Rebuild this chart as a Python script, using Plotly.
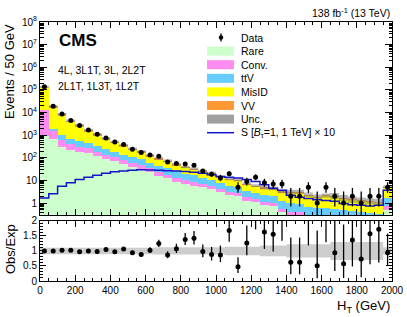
import numpy as np
import plotly.graph_objects as go

# ---------------- data ----------------
bin_width = 50
edges = list(range(0, 2001, 50))
centers = [e + 25 for e in edges[:-1]]

rare = [900, 650, 300, 230, 190, 160, 120, 90, 70, 52, 40, 32, 24, 16, 13, 9, 7, 6, 5, 4,
        3, 2.3, 2, 1.3, 1.1, 0.85, 0.75, 0.4, 0.3, 0.28, 0.22, 0.2, 0.2, 0.18, 0.16, 0.14, 0.13, 0.12, 0.11, 0.5]
conv = [12100, 900, 320, 160, 125, 100, 70, 50, 38, 27, 20, 15, 10, 7, 5, 4, 3, 2.5, 2, 1.6,
        1.1, 0.9, 0.8, 0.5, 0.4, 0.3, 0.25, 0.15, 0.12, 0.12, 0.08, 0.07, 0.08, 0.07, 0.06, 0.05, 0.05, 0.04, 0.04, 0.25]
ttv = [200, 250, 380, 290, 230, 185, 140, 105, 80, 60, 45, 38, 28, 22, 18, 13, 10, 8.5, 6.5, 5,
       3.5, 2.8, 2.4, 1.6, 1.3, 1.1, 1.0, 0.7, 0.6, 0.55, 0.4, 0.35, 0.35, 0.32, 0.28, 0.25, 0.22, 0.2, 0.18, 1.0]
misid = [118000, 14500, 6300, 3000, 1800, 1000, 610, 370, 250, 170, 110, 80, 50, 36, 28, 19, 14, 12, 9.5, 8,
         5.4, 4.3, 3.9, 2.7, 2.4, 2.0, 1.9, 1.65, 1.83, 1.9, 1.45, 1.14, 1.37, 1.36, 1.1, 0.91, 0.87, 0.81, 0.73, 3.1]
vv = [6800, 2700, 1230, 730, 435, 255, 180, 109, 77, 56, 40, 28, 17, 13, 11, 7, 5, 4, 3.5, 3,
      2, 1.6, 1.5, 1.0, 0.8, 0.65, 0.6, 0.4, 0.35, 0.35, 0.25, 0.2, 0.2, 0.2, 0.15, 0.12, 0.1, 0.1, 0.1, 0.45]
unc_rel = [0.11] * 13 + [0.12] * 8 + [0.14] * 4 + [0.18] * 3 + [0.22] * 5 + [0.3] * 6 + [0.12]
data = [138000, 19000, 8700, 4500, 2700, 1700, 1100, 760, 500, 390, 240, 170, 132, 117, 65, 56, 54, 47, 26, 19,
        13, 20, 5, 9, 14, 8, 7, 7, 2, 2, 5, 1, 5, 2, 1, 2, 1, 2, 2, 5]
signal_x10 = [1.7, 2.6, 5.5, 8, 11, 14, 17, 21, 24, 26, 28, 29.5, 29, 28.5, 27, 26, 25, 23, 21, 18,
              15, 14, 13, 11, 9, 6.5, 4.5, 3.7, 2.2, 1.8, 1.6, 1.4, 1.3, 1.2, 0.95, 0.85, 0.8, 0.75, 0.8, 3.7]

bkg_names = ["Rare", "Conv.", "ttV", "MisID", "VV"]
bkg_colors = ["rgb(204,255,204)", "rgb(255,140,240)", "rgb(102,204,255)", "rgb(255,255,0)", "rgb(255,153,51)"]
bkg_values = [rare, conv, ttv, misid, vv]

# ---------------- derived ----------------
total = np.sum(np.array(bkg_values, dtype=float), axis=0)
unc = np.array(unc_rel)
d = np.array(data, dtype=float)
# Garwood-like asymmetric Poisson errors
lo = d - d * (1 - 1 / (9 * d) - 1 / (3 * np.sqrt(d))) ** 3
hi = (d + 1) * (1 - 1 / (9 * (d + 1)) + 1 / (3 * np.sqrt(d + 1))) ** 3 - d
ratio = d / total


def step(vals):
    return list(vals) + [vals[-1]]


fig = go.Figure()

for name, col, vals in zip(bkg_names, bkg_colors, bkg_values):
    fig.add_trace(go.Bar(x=centers, y=vals, width=bin_width, name=name,
                         marker=dict(color=col, line=dict(width=0)), xaxis="x", yaxis="y"))

# uncertainty band (upper)
fig.add_trace(go.Scatter(x=edges, y=step(total * (1 - unc)), mode="lines", line=dict(width=0, shape="hv"),
                         xaxis="x", yaxis="y", hoverinfo="skip"))
fig.add_trace(go.Scatter(x=edges, y=step(total * (1 + unc)), mode="lines", line=dict(width=0, shape="hv"),
                         fill="tonexty", fillcolor="rgba(110,110,110,0.5)", xaxis="x", yaxis="y", hoverinfo="skip"))

# signal
fig.add_trace(go.Scatter(x=edges, y=step(signal_x10), mode="lines",
                         line=dict(color="rgb(20,20,200)", width=1.5, shape="hv"), xaxis="x", yaxis="y"))

# data
fig.add_trace(go.Scatter(x=centers, y=data, mode="markers", marker=dict(color="black", size=5),
                         error_y=dict(type="data", symmetric=False, array=hi, arrayminus=lo,
                                      color="black", thickness=1.3, width=0),
                         xaxis="x", yaxis="y"))

# ratio band
fig.add_trace(go.Scatter(x=edges, y=step(1 - unc), mode="lines", line=dict(width=0, shape="hv"),
                         xaxis="x2", yaxis="y2", hoverinfo="skip"))
fig.add_trace(go.Scatter(x=edges, y=step(1 + unc), mode="lines", line=dict(width=0, shape="hv"),
                         fill="tonexty", fillcolor="rgb(205,205,205)", xaxis="x2", yaxis="y2", hoverinfo="skip"))
fig.add_trace(go.Scatter(x=centers, y=ratio, mode="markers", marker=dict(color="black", size=5),
                         error_y=dict(type="data", symmetric=False, array=hi / total, arrayminus=lo / total,
                                      color="black", thickness=1.3, width=0),
                         xaxis="x2", yaxis="y2"))

FONT = "Liberation Sans, Arial, sans-serif"
logmin = np.log10(0.3)
major_y = [10 ** k for k in range(0, 9)]
major_txt = ["1", "10"] + ["10<sup>%d</sup>" % k for k in range(2, 9)]
minor_y = [m * 10 ** k for k in range(-1, 8) for m in range(2, 10) if 0.3 <= m * 10 ** k <= 1e8]

axis_common = dict(showline=True, linecolor="black", linewidth=1, mirror="ticks", ticks="inside",
                   tickcolor="black", showgrid=False, zeroline=False, tickfont=dict(size=10, family=FONT, color="black"))

fig.update_layout(
    width=407, height=317,
    margin=dict(l=40, r=15, t=22, b=36, autoexpand=False),
    paper_bgcolor="white", plot_bgcolor="white",
    barmode="stack", bargap=0, showlegend=False,
    font=dict(family=FONT, color="black"),
    xaxis=dict(domain=[0, 1], anchor="y", range=[0, 2000], dtick=200, ticklen=6, showticklabels=False,
               minor=dict(dtick=50, ticklen=3, ticks="inside", tickcolor="black"), **axis_common),
    yaxis=dict(domain=[0.255, 1], anchor="x", type="log", range=[logmin, 8], tickmode="array",
               tickvals=major_y, ticktext=major_txt, ticklen=7,
               minor=dict(tickmode="array", tickvals=minor_y, ticklen=3.5, ticks="inside", tickcolor="black"),
               **axis_common),
    xaxis2=dict(domain=[0, 1], anchor="y2", range=[0, 2000], dtick=200, ticklen=6,
                minor=dict(dtick=50, ticklen=3, ticks="inside", tickcolor="black"), **axis_common),
    yaxis2=dict(domain=[0, 0.232], anchor="x2", range=[0, 2], tickmode="array",
                tickvals=[0, 0.5, 1, 1.5, 2], ticktext=["0", "0.5", "1", "1.5", "2"], ticklen=6,
                minor=dict(dtick=0.1, ticklen=3, ticks="inside", tickcolor="black"), **axis_common),
)


def px(xp):
    return (xp - 40) / 352.0


def py(yp):
    return (281 - yp) / 259.0


ann = []
ann.append(dict(text="138 fb<sup>-1</sup> (13 TeV)", x=1, y=py(12), xanchor="right", yanchor="middle",
                font=dict(size=10.5)))
ann.append(dict(text="<b>CMS</b>", x=px(57), y=py(41), xanchor="left", yanchor="middle", font=dict(size=17)))
ann.append(dict(text="4L, 3L1T, 3L, 2L2T", x=px(56), y=py(70), xanchor="left", yanchor="middle", font=dict(size=10.5)))
ann.append(dict(text="2L1T, 1L3T, 1L2T", x=px(56), y=py(86.5), xanchor="left", yanchor="middle", font=dict(size=10.5)))
ann.append(dict(text="Events / 50 GeV", x=px(10), y=py(72), xanchor="center", yanchor="middle", textangle=-90,
                font=dict(size=13)))
ann.append(dict(text="Obs/Exp", x=px(10), y=py(249), xanchor="center", yanchor="middle", textangle=-90,
                font=dict(size=13)))
ann.append(dict(text="H<sub>T</sub> (GeV)", x=1, y=py(306), xanchor="right", yanchor="middle", font=dict(size=13)))

# legend (drawn manually)
leg_labels = ["Data"] + bkg_names + ["Unc.", "S [<i>B</i><sub>τ</sub>=1, 1 TeV] × 10"]
row0, drow = 37.5, 13.6
shapes = []
bx0, bx1 = 207, 234
for i, lab in enumerate(leg_labels):
    yc = row0 + i * drow
    ann.append(dict(text=lab, x=px(239), y=py(yc), xanchor="left", yanchor="middle", font=dict(size=10.5)))
    if i == 0:
        shapes.append(dict(type="line", xref="paper", yref="paper", x0=px(221), x1=px(221), y0=py(yc - 4),
                           y1=py(yc + 4), line=dict(color="black", width=1.3)))
        shapes.append(dict(type="circle", xref="paper", yref="paper", x0=px(218.8), x1=px(223.2), y0=py(yc - 2.2),
                           y1=py(yc + 2.2), fillcolor="black", line=dict(width=0)))
    elif 1 <= i <= 5:
        shapes.append(dict(type="rect", xref="paper", yref="paper", x0=px(bx0), x1=px(bx1), y0=py(yc - 4.5),
                           y1=py(yc + 4.5), fillcolor=bkg_colors[i - 1], line=dict(width=0)))
    elif i == 6:
        shapes.append(dict(type="rect", xref="paper", yref="paper", x0=px(bx0), x1=px(bx1), y0=py(yc - 4.5),
                           y1=py(yc + 4.5), fillcolor="rgb(160,160,160)", line=dict(width=0)))
    else:
        shapes.append(dict(type="line", xref="paper", yref="paper", x0=px(bx0), x1=px(bx1), y0=py(yc), y1=py(yc),
                           line=dict(color="rgb(20,20,200)", width=1.5)))

for a in ann:
    a.update(xref="paper", yref="paper", showarrow=False)
fig.update_layout(annotations=ann, shapes=shapes)

# remove the default 8 px page margin so the figure sits at the window's corner
fig.write_html("out.html", config={"displayModeBar": False, "staticPlot": True},
               post_script="document.body.style.margin='0px';document.body.style.overflow='hidden';")
